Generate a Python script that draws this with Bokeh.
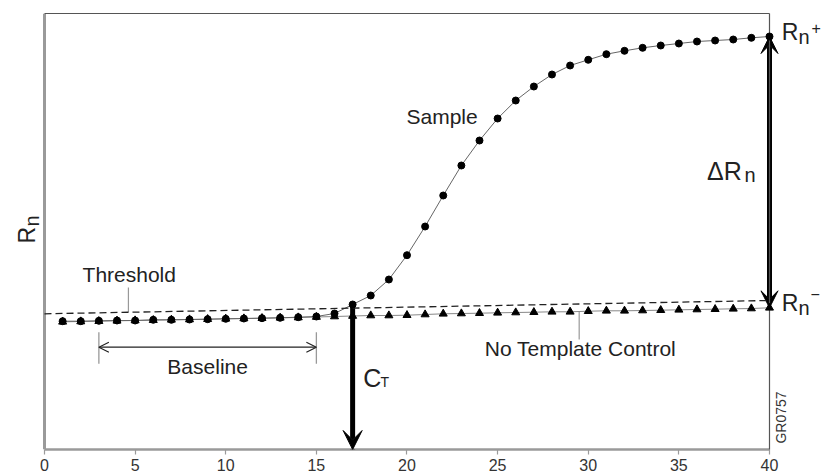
from math import pi
import numpy as np
from bokeh.plotting import figure
from bokeh.models import Range1d, FixedTicker, Label, Arrow, VeeHead, OpenHead
from bokeh.embed import file_html
from bokeh.resources import INLINE

# ---------------- data ----------------
cycles = list(range(1, 41))
sample_rn = [1.283, 1.283, 1.287, 1.290, 1.290, 1.297, 1.297, 1.300, 1.303, 1.307,
             1.310, 1.313, 1.317, 1.323, 1.330, 1.360, 1.450, 1.540, 1.700, 1.943,
             2.230, 2.540, 2.840, 3.090, 3.310, 3.490, 3.630, 3.750, 3.840, 3.897,
             3.953, 3.987, 4.017, 4.040, 4.060, 4.080, 4.090, 4.100, 4.117, 4.130]
ntc_rn = [1.277, 1.280, 1.283, 1.287, 1.290, 1.293, 1.297, 1.300, 1.303, 1.307,
          1.310, 1.313, 1.317, 1.320, 1.325, 1.330, 1.335, 1.340, 1.340, 1.343,
          1.350, 1.357, 1.360, 1.363, 1.367, 1.370, 1.373, 1.377, 1.377, 1.383,
          1.387, 1.387, 1.390, 1.393, 1.397, 1.400, 1.403, 1.407, 1.410, 1.417]
threshold_cycles = [0, 40]
threshold_rn = [1.357, 1.490]
x_ticks = [0, 5, 10, 15, 20, 25, 30, 35, 40]
ct_cycle = 17
baseline_start, baseline_end = 3, 15

# plot box (data limits of the drawn chart area)
x_min, x_max = 0, 40
y_min, y_max = 0, 4.36

FONT = "Liberation Sans"
TXT = "#222222"

# frame extended left/right so that outer labels are inside the drawable area
p = figure(width=825, height=474, x_range=Range1d(-1.8759, 43.0897), y_range=Range1d(y_min, y_max),
           output_backend="svg", toolbar_location=None,
           min_border_left=10, min_border_right=0, min_border_top=13, min_border_bottom=25)
p.grid.visible = False
p.background_fill_color = "white"
p.border_fill_color = "white"
p.outline_line_color = None

# y axis: only the grey line, at x = 0
p.yaxis.fixed_location = x_min
p.yaxis.bounds = (y_min, y_max)
p.yaxis.ticker = FixedTicker(ticks=[])
p.yaxis.axis_line_color = "#9a9a9a"
p.yaxis.axis_line_width = 3
p.yaxis.major_tick_line_color = None
p.yaxis.minor_tick_line_color = None
p.yaxis.major_label_text_font_size = "0px"
p.yaxis.major_label_standoff = 0

# x axis
p.xaxis.bounds = (x_min, x_max)
p.xaxis.ticker = FixedTicker(ticks=x_ticks)
p.xaxis.axis_line_color = "#9a9a9a"
p.xaxis.axis_line_width = 2.5
p.xaxis.major_tick_line_color = "#9a9a9a"
p.xaxis.major_tick_line_width = 1.2
p.xaxis.major_tick_in = 0
p.xaxis.major_tick_out = 5
p.xaxis.minor_tick_line_color = None
p.xaxis.major_label_standoff = 4
p.xaxis.major_label_text_font = FONT
p.xaxis.major_label_text_font_size = "16px"
p.xaxis.major_label_text_color = "#333333"

# top and right border of the chart box
r = p.segment(x0=[x_min, x_max], y0=[y_max, y_min], x1=[x_max, x_max], y1=[y_max, y_max],
              line_color="#555555", line_width=1.2)
r.level = "overlay"

# ---------------- series ----------------
r = p.line(cycles, ntc_rn, line_color="#888888", line_width=1)
r.level = "overlay"
r = p.line(cycles, sample_rn, line_color="#666666", line_width=1)
r.level = "overlay"
r = p.line(threshold_cycles, threshold_rn, line_color="#222222", line_width=1.3, line_dash="7 4")
r.level = "overlay"
r = p.scatter(cycles, ntc_rn, marker="triangle", size=8, color="black")
r.level = "overlay"
r = p.scatter(cycles, sample_rn, marker="circle", size=7, color="black")
r.level = "overlay"

# pointer lines
thr_ptr_x = 4.63
thr_ptr_top = 1.62
thr_ptr_bot = float(np.interp(thr_ptr_x, threshold_cycles, threshold_rn))
ntc_ptr_x = 29.5
ntc_ptr_bot = 1.10
ntc_ptr_top = float(np.interp(ntc_ptr_x, cycles, ntc_rn))
p.segment(x0=[thr_ptr_x, ntc_ptr_x], y0=[thr_ptr_top, ntc_ptr_bot],
          x1=[thr_ptr_x, ntc_ptr_x], y1=[thr_ptr_bot, ntc_ptr_top],
          line_color="#999999", line_width=1.2)

# baseline bracket
base_y = 1.023
base_lo, base_hi = 0.857, 1.173
p.segment(x0=[baseline_start, baseline_end], y0=[base_lo, base_lo],
          x1=[baseline_start, baseline_end], y1=[base_hi, base_hi],
          line_color="#999999", line_width=1.3)
p.add_layout(Arrow(start=OpenHead(size=10, line_width=1.2, line_color=TXT),
                   end=OpenHead(size=10, line_width=1.2, line_color=TXT),
                   x_start=baseline_start, y_start=base_y, x_end=baseline_end, y_end=base_y,
                   line_width=1.3, line_color=TXT))

# CT arrow
p.add_layout(Arrow(end=VeeHead(size=19, fill_color="black", line_color="black"),
                   x_start=ct_cycle, y_start=sample_rn[ct_cycle - 1], x_end=ct_cycle, y_end=y_min,
                   line_width=5, line_color="black"))

# delta Rn arrow
p.add_layout(Arrow(start=VeeHead(size=17, fill_color="black", line_color="black"),
                   end=VeeHead(size=17, fill_color="black", line_color="black"),
                   x_start=cycles[-1], y_start=ntc_rn[-1], x_end=cycles[-1], y_end=sample_rn[-1],
                   line_width=5, line_color="black"))

# ---------------- texts ----------------
def lab(x, y, text, size, align="left", baseline="alphabetic", angle=0, color=TXT):
    p.add_layout(Label(x=x, y=y, text=text, text_font=FONT, text_font_size=f"{size}px",
                       text_color=color, text_align=align, text_baseline=baseline, angle=angle))

lab(19.97, 3.33, "Sample", 21)
lab(2.10, 1.75, "Threshold", 21)
lab(9.0, 0.83, "Baseline", 21, align="center")
lab(29.57, 1.013, "No Template Control", 21, align="center")
lab(17.58, 0.713, "C", 25)
lab(18.54, 0.68, "T", 14)
lab(36.55, 2.785, "\u0394R", 25)
lab(38.62, 2.745, "n", 20)
lab(40.68, 4.18, "R", 23)
lab(41.60, 4.13, "n", 20)
lab(42.32, 4.22, "+", 16)
lab(40.68, 1.463, "R", 23)
lab(41.60, 1.413, "n", 20)
lab(42.26, 1.56, "\u2212", 16)
lab(40.61, 0.32, "GR0757", 14, align="center", baseline="middle", angle=pi / 2, color="#333333")
lab(-0.993, 2.06, "R", 23, angle=pi / 2)
lab(-0.717, 2.23, "n", 20, angle=pi / 2)

open("out.html", "w").write(file_html(p, INLINE))
